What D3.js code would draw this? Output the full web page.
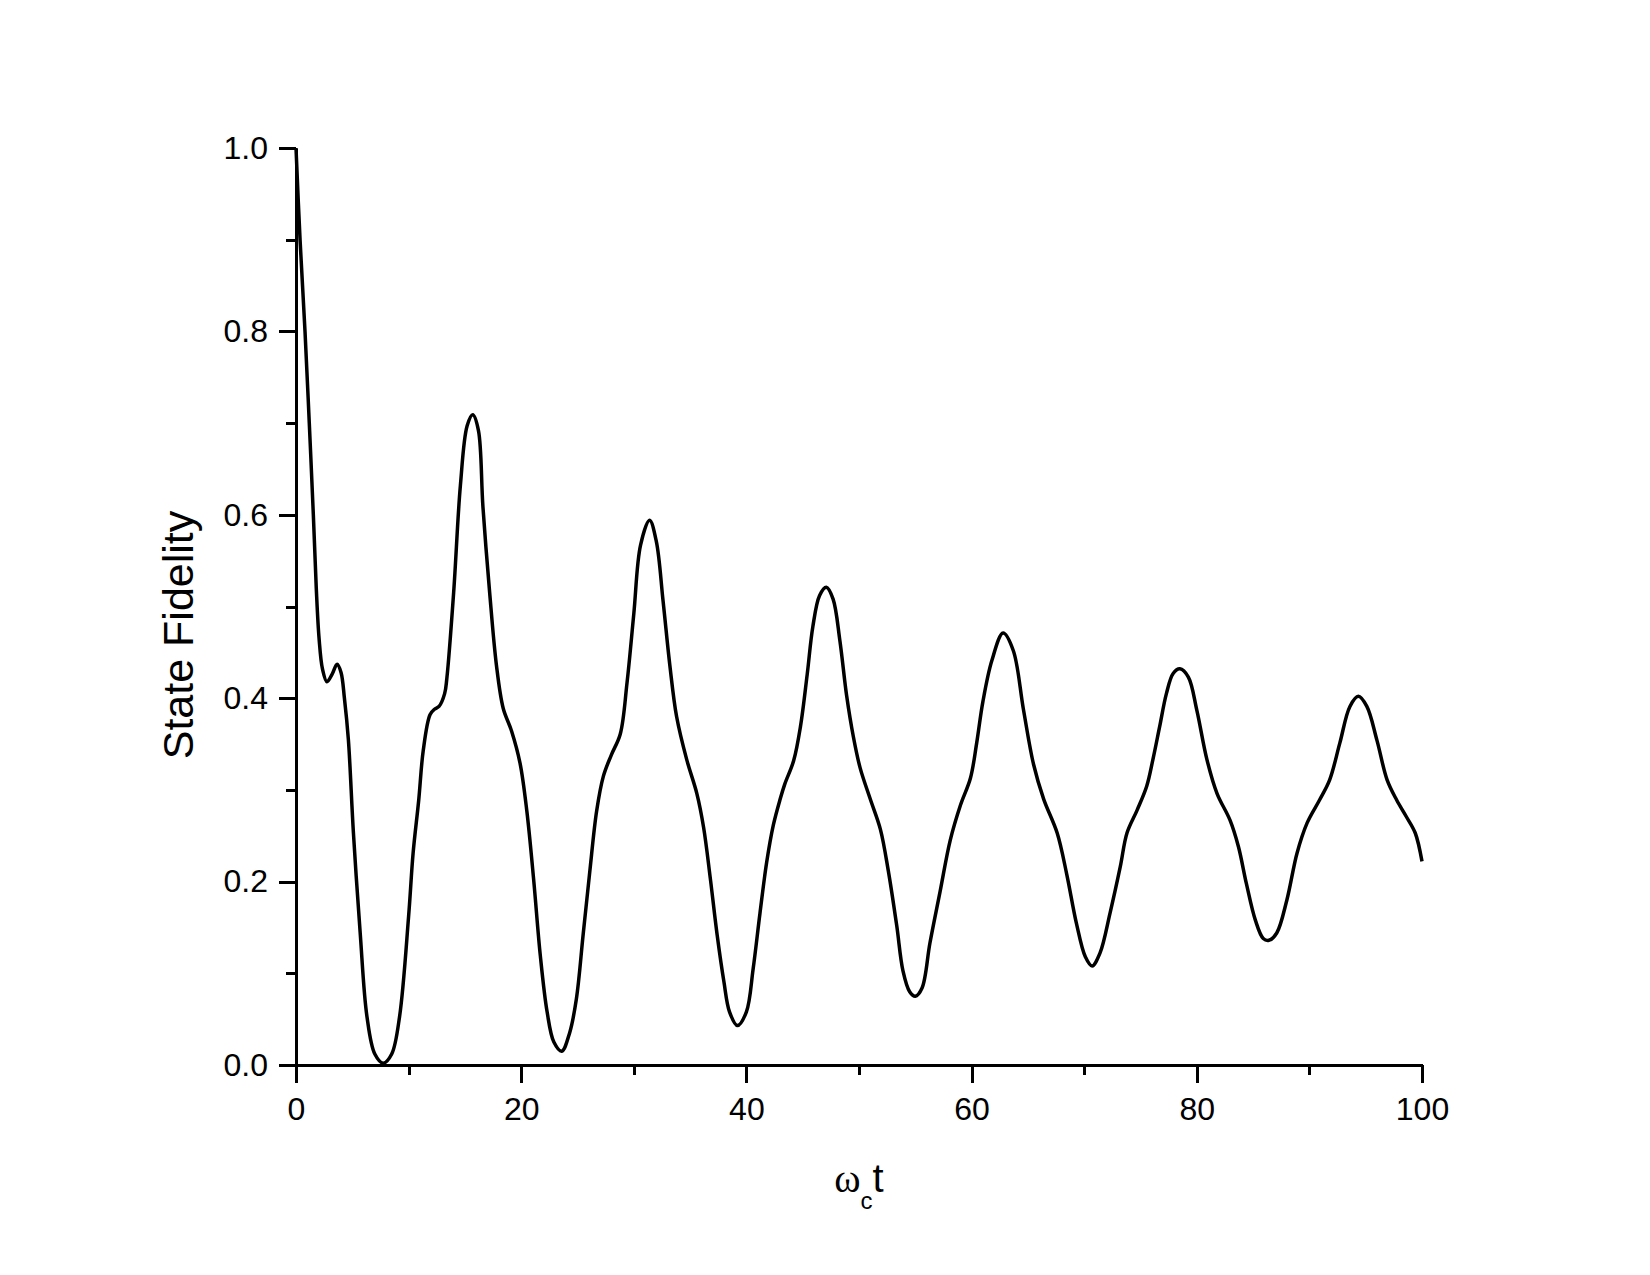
<!DOCTYPE html>
<meta charset="utf-8">
<style>
body {
    margin: 0;
    background: #fff;
}
text {
    font-family: "Liberation Sans", Arial, sans-serif;
    fill: #000;
}
.axis path,
.axis line {
    fill: none;
    stroke: #000;
    stroke-width: 3px;
    shape-rendering: crispEdges;
}
.axis text {
    font-size: 32px;
}
</style>
<body>
<script src="https://d3js.org/d3.v7.min.js"></script>
<script>

// values (omega_c t, state fidelity)
var times = [0, 0.36, 0.8, 1.18, 1.54, 1.8, 2.05, 2.35, 2.75, 3.2, 3.65, 4.0, 4.3, 4.65, 5.1, 5.7, 6.3, 7.0, 7.75, 8.5,
    9.2, 10.0, 10.4, 10.9, 11.3, 11.9, 12.3, 12.7, 13.2, 13.4, 14.0, 14.6, 15.2, 15.7, 16.2, 16.6, 17.2, 17.8, 18.4, 19.15,
    19.9, 20.5, 21.1, 21.7, 22.3, 22.9, 23.6, 24.3, 24.9, 25.5, 26.1, 26.7, 27.3, 28.0, 28.8, 29.4, 30.0, 30.6, 31.4, 32.0,
    32.6, 33.2, 33.8, 34.7, 35.6, 36.2, 36.8, 37.4, 38.0, 38.5, 39.2, 40.0, 40.6, 41.2, 41.8, 42.4, 43.0, 43.4, 44.2, 44.8,
    45.4, 45.9, 46.5, 47.1, 47.7, 48.3, 48.9, 49.5, 50.1, 51.0, 51.9, 52.6, 53.35, 53.9, 54.5, 55.0, 55.6, 56.3, 57.2, 58.1,
    59.0, 59.9, 60.45, 61.0, 61.8, 62.8, 63.7, 64.6, 65.5, 66.4, 67.6, 68.45, 69.3, 70.1, 70.7, 71.4, 72.3, 73.2, 73.8, 74.7,
    75.55, 76.1, 76.7, 77.3, 77.9, 78.5, 79.25, 80.0, 80.9, 81.8, 82.95, 83.7, 84.4, 85.2, 85.9, 86.4, 87.1, 88.0, 88.9, 89.8,
    90.9, 91.8, 92.7, 93.6, 94.35, 95.1, 96.0, 96.9, 97.75, 98.6, 99.4, 100];

var fidelity = [1.0, 0.90, 0.80, 0.70, 0.60, 0.52, 0.465, 0.432, 0.418, 0.426, 0.437, 0.428, 0.40, 0.355, 0.253, 0.144, 0.053, 0.012, 0.002, 0.012,
    0.053, 0.162, 0.231, 0.289, 0.343, 0.382, 0.388, 0.391, 0.405, 0.422, 0.515, 0.632, 0.697, 0.709, 0.692, 0.609, 0.515, 0.436, 0.389, 0.364,
    0.329, 0.277, 0.203, 0.119, 0.058, 0.025, 0.015, 0.035, 0.072, 0.142, 0.212, 0.277, 0.315, 0.338, 0.361, 0.417, 0.492, 0.567, 0.594, 0.571,
    0.506, 0.436, 0.380, 0.333, 0.296, 0.259, 0.203, 0.142, 0.091, 0.058, 0.043, 0.058, 0.105, 0.165, 0.221, 0.262, 0.290, 0.306, 0.332, 0.369,
    0.426, 0.478, 0.512, 0.521, 0.508, 0.463, 0.403, 0.358, 0.324, 0.290, 0.257, 0.212, 0.152, 0.103, 0.080, 0.075, 0.084, 0.133, 0.189, 0.245,
    0.283, 0.313, 0.351, 0.396, 0.441, 0.471, 0.452, 0.388, 0.328, 0.290, 0.253, 0.208, 0.155, 0.118, 0.108, 0.122, 0.166, 0.216, 0.253, 0.278,
    0.304, 0.333, 0.369, 0.405, 0.427, 0.432, 0.423, 0.387, 0.333, 0.296, 0.267, 0.238, 0.198, 0.158, 0.138, 0.136, 0.144, 0.180, 0.231, 0.264,
    0.289, 0.311, 0.351, 0.391, 0.402, 0.391, 0.354, 0.311, 0.289, 0.271, 0.253, 0.222];

var xMajor = [0, 20, 40, 60, 80, 100];
var xMinor = [10, 30, 50, 70, 90];
var yMajor = [0, 0.2, 0.4, 0.6, 0.8, 1.0];
var yMinor = [0.1, 0.3, 0.5, 0.7, 0.9];

var margin = {top: 148, right: 228, bottom: 210, left: 296},
    width = 1650 - margin.left - margin.right,
    height = 1275 - margin.top - margin.bottom;

var svg = d3.select("body").append("svg")
    .attr("width", 1650)
    .attr("height", 1275)
  .append("g")
    .attr("transform", "translate(" + margin.left + "," + margin.top + ")");

var x = d3.scaleLinear().domain([0, 100]).range([0, width]);
var y = d3.scaleLinear().domain([0, 1]).range([height, 0]);

var data = times.map(function(t, i) { return {t: t, f: fidelity[i]}; });

// minor ticks first, then major axes over them
svg.append("g")
    .attr("class", "x axis")
    .attr("transform", "translate(0," + height + ")")
    .call(d3.axisBottom(x).tickValues(xMinor).tickSize(10).tickFormat(""))
    .select(".domain").remove();

svg.append("g")
    .attr("class", "y axis")
    .call(d3.axisLeft(y).tickValues(yMinor).tickSize(10).tickFormat(""))
    .select(".domain").remove();

svg.append("g")
    .attr("class", "x axis")
    .attr("transform", "translate(0," + height + ")")
    .call(d3.axisBottom(x).tickValues(xMajor).tickSizeInner(18).tickSizeOuter(0).tickPadding(14).tickFormat(d3.format("d")));

svg.append("g")
    .attr("class", "y axis")
    .call(d3.axisLeft(y).tickValues(yMajor).tickSizeInner(17).tickSizeOuter(0).tickPadding(11).tickFormat(d3.format(".1f")));

var line = d3.line()
    .x(function(d) { return x(d.t); })
    .y(function(d) { return y(d.f); })
    .curve(d3.curveCatmullRom.alpha(0.5));

svg.append("path")
    .datum(data)
    .attr("fill", "none")
    .attr("stroke", "#000")
    .attr("stroke-width", 3.5)
    .attr("stroke-linejoin", "round")
    .attr("d", line);

// axis titles
svg.append("text")
    .attr("transform", "translate(" + (178 - margin.left) + "," + (635 - margin.top) + ") rotate(-90)")
    .attr("text-anchor", "middle")
    .attr("dy", "0.36em")
    .style("font-size", "43px")
    .text("State Fidelity");

var xt = svg.append("text")
    .attr("x", width / 2)
    .attr("y", 1192 - margin.top)
    .attr("text-anchor", "middle")
    .style("font-size", "40px");
xt.append("tspan").style("font-family", "'Liberation Serif', serif").text("ω");
xt.append("tspan").attr("dy", 17).style("font-size", "24px").text("c");
xt.append("tspan").attr("dy", -17).text("t");

</script>
</body>
</html>
